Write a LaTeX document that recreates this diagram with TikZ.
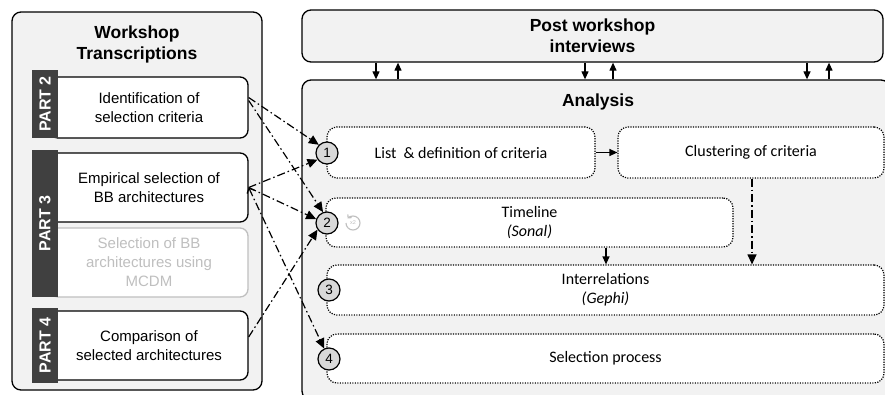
\documentclass[tikz,border=0pt]{standalone}
\usepackage{fontspec}
\setmainfont{Liberation Sans}
\newfontfamily\calibri{Carlito}
\usetikzlibrary{arrows.meta}
\definecolor{panel}{HTML}{F2F2F2}
\definecolor{bar}{HTML}{404040}
\definecolor{circ}{HTML}{D9D9D9}
\definecolor{faded}{HTML}{BFBFBF}
\begin{document}
\begin{tikzpicture}[x=1pt, y=-1pt,
    panelbox/.style={draw, line width=1.3pt, rounded corners=9pt, fill=panel},
    partbox/.style={draw, line width=1.3pt, rounded corners=8pt, fill=white, align=center, font=\fontsize{15}{19}\selectfont},
    partbar/.style={fill=bar, text=white, rotate=90, inner sep=0pt, font=\bfseries\fontsize{16}{19}\selectfont},
    stepbox/.style={draw, dash pattern=on 1.2pt off 1.3pt, line width=1.2pt, rounded corners=10pt, fill=white, align=center, font=\calibri\fontsize{16}{19}\selectfont},
    numcirc/.style={circle, draw, line width=1.2pt, fill=circ, minimum size=22pt, inner sep=0pt, font=\fontsize{13.5}{13.5}\selectfont},
    title/.style={font=\bfseries\fontsize{17.5}{21}\selectfont, align=center},
    link/.style={line width=1.2pt, dash pattern=on 8pt off 3pt on 1.5pt off 3pt, -{Triangle[length=10pt,width=9pt]}},
    flow/.style={line width=1.2pt, -{Triangle[length=8pt,width=7pt]}}]
    \useasboundingbox (0,0) rectangle (885,394);

    % Workshop side
    \node[panelbox, minimum width=250pt, minimum height=378pt] (workshop) at (137,201) {};
    \node[title] (worktitle) at (137,44) {Workshop\\Transcriptions};

    \node[partbox, minimum width=198pt, minimum height=61pt] (ident) at (149,107.5) {Identification of\\selection criteria};
    \node[partbox, minimum width=198pt, minimum height=69pt] (empirical) at (149,187.5) {Empirical selection of\\BB architectures};
    \node[partbox, draw=faded, text=faded, minimum width=198pt, minimum height=69pt] (mcdm) at (149,262.5) {Selection of BB\\architectures using\\MCDM};
    \node[partbox, minimum width=198pt, minimum height=69pt] (comparison) at (149,345.5) {Comparison of\\selected architectures};

    \node[partbar, minimum width=68pt, minimum height=26pt] (part2) at (45,104) {PART 2};
    \node[partbar, minimum width=147pt, minimum height=26pt] (part3) at (45,223.5) {PART 3};
    \node[partbar, minimum width=75pt, minimum height=26pt] (part4) at (45,345.5) {PART 4};

    % Interviews and analysis
    \node[panelbox, title, minimum width=581pt, minimum height=52pt] (post) at (592.5,36) {Post workshop\\interviews};
    \node[panelbox, minimum width=588pt, minimum height=320pt] (analysis) at (596,240) {};
    \node[title] (antitle) at (598,102) {Analysis};

    \foreach \d/\u in {376/398, 585/613, 807/829} {
        \draw[flow] (post.south -| \d,0) -- (analysis.north -| \d,0);
        \draw[flow] (analysis.north -| \u,0) -- (post.south -| \u,0);
    }

    % Analysis steps
    \node[stepbox, minimum width=268pt, minimum height=51pt] (list) at (461,152.5) {List~ \& definition of criteria};
    \node[stepbox, minimum width=266pt, minimum height=51pt] (cluster) at (751,152.5) {Clustering of criteria};
    \node[stepbox, minimum width=407pt, minimum height=49pt] (timeline) at (529.5,222.5) {Timeline\\\textit{(Sonal)}};
    \node[stepbox, minimum width=557pt, minimum height=50pt] (inter) at (605.5,290) {Interrelations\\\textit{(Gephi)}};
    \node[stepbox, minimum width=557pt, minimum height=49pt] (selection) at (605.5,358.5) {Selection process};

    \node[numcirc] (c1) at (327,153) {1};
    \node[numcirc] (c2) at (327,223) {2};
    \node[numcirc] (c3) at (329,290) {3};
    \node[numcirc] (c4) at (329,359) {4};

    % repeat icon
    \node[inner sep=0pt, text=faded, font=\fontsize{5.5}{5.5}\selectfont] (loopicon) at (353,223) {x2};
    \draw[faded, line width=1.1pt, -{Straight Barb[length=2.5pt]}] ([xshift=-7pt]loopicon.center) arc[start angle=180, end angle=-140, radius=7];

    \draw[flow] (list.east) -- (cluster.west);
    \draw[flow] (timeline.south -| 606,0) -- (inter.north -| 606,0);
    \draw[link] (cluster.south -| 752,0) -- (inter.north -| 752,0);

    % Links from transcriptions
    \draw[link] ([yshift=10pt]ident.east) -- (c1.135);
    \draw[link] ([yshift=7pt]ident.east) -- (c2.110);
    \draw[link] (empirical.east) -- (c1.215);
    \draw[link] (empirical.east) -- (c2.160);
    \draw[link, {Straight Barb[length=4pt,width=8pt]}-{Triangle[length=10pt,width=9pt]}] (empirical.east) -- (c4.115);
    \draw[link] ([yshift=8.5pt]comparison.east) -- (c2.215);
\end{tikzpicture}
\end{document}
